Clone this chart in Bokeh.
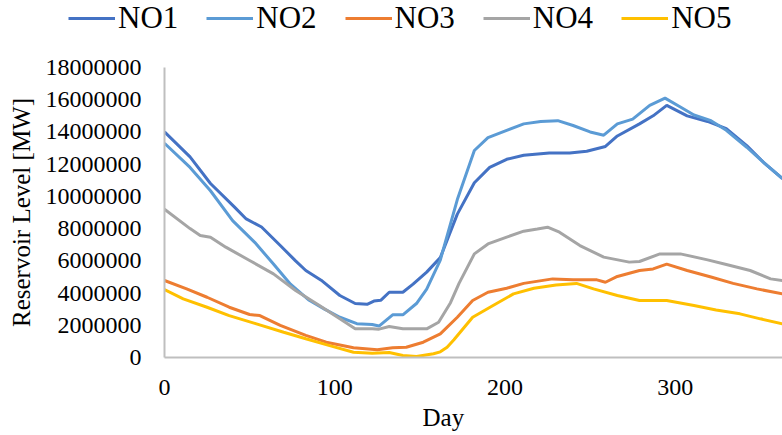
from bokeh.plotting import figure
from bokeh.layouts import column
from bokeh.models import Legend, LegendItem, FixedTicker, BasicTickFormatter, Range1d, Title
from bokeh.embed import file_html
from bokeh.resources import INLINE

series_names = ["NO1", "NO2", "NO3", "NO4", "NO5"]
colors = ["#4472C4", "#5B9BD5", "#ED7D31", "#A5A5A5", "#FFC000"]

no1_days = [0, 15, 27, 41, 48, 57, 68, 77, 83, 92, 103, 112, 119, 123, 127, 132, 140, 146, 154, 162, 172,
            182, 191, 201, 211, 226, 238, 248, 259, 266, 279, 287, 295, 307, 319, 330, 342, 352, 363]
no1 = [14.0, 12.45, 10.8, 9.35, 8.6, 8.1, 6.95, 6.0, 5.4, 4.8, 3.85, 3.35, 3.3, 3.5, 3.55, 4.05, 4.05, 4.55,
       5.3, 6.2, 8.9, 10.85, 11.8, 12.3, 12.55, 12.7, 12.7, 12.8, 13.1, 13.75, 14.5, 15.0, 15.65, 15.0,
       14.65, 14.2, 13.15, 12.1, 11.1]

no2_days = [0, 15, 27, 40, 53, 64, 74, 85, 94, 103, 113, 122, 126, 134, 140, 148, 154, 162, 172, 182, 190,
            201, 211, 221, 231, 240, 250, 258, 266, 275, 285, 294, 303, 311, 321, 330, 342, 352, 363]
no2 = [13.3, 11.8, 10.35, 8.5, 7.15, 5.8, 4.55, 3.55, 3.0, 2.5, 2.1, 2.05, 1.95, 2.65, 2.65, 3.35, 4.25,
       6.05, 9.8, 12.85, 13.65, 14.1, 14.5, 14.65, 14.7, 14.4, 14.0, 13.8, 14.5, 14.8, 15.65, 16.1, 15.55,
       15.05, 14.7, 14.1, 13.05, 12.1, 11.1]

no3_days = [0, 13, 25, 38, 50, 56, 68, 83, 95, 111, 125, 134, 142, 152, 162, 172, 181, 190, 201, 211, 228,
            240, 254, 259, 266, 279, 287, 295, 307, 321, 334, 348, 363]
no3 = [4.78, 4.26, 3.74, 3.12, 2.67, 2.6, 2.0, 1.37, 0.95, 0.6, 0.48, 0.6, 0.64, 0.95, 1.47, 2.5, 3.54,
       4.05, 4.3, 4.6, 4.88, 4.82, 4.82, 4.67, 5.03, 5.4, 5.5, 5.8, 5.4, 5.0, 4.6, 4.26, 3.95]

no4_days = [0, 15, 21, 27, 36, 50, 64, 77, 91, 103, 112, 122, 126, 132, 140, 154, 161, 168, 173, 182, 190,
            201, 211, 219, 225, 232, 244, 258, 273, 279, 291, 303, 319, 330, 344, 356, 363]
no4 = [9.2, 8.0, 7.57, 7.47, 6.85, 6.02, 5.19, 4.16, 3.23, 2.4, 1.78, 1.78, 1.76, 1.92, 1.78, 1.78, 2.19,
       3.4, 4.6, 6.43, 7.05, 7.47, 7.84, 7.98, 8.09, 7.78, 6.95, 6.23, 5.92, 5.96, 6.43, 6.43, 6.06, 5.77,
       5.4, 4.88, 4.78]

no5_days = [0, 11, 25, 38, 54, 70, 83, 97, 111, 122, 132, 140, 148, 158, 162, 166, 170, 181, 193, 205, 217,
            230, 242, 252, 266, 279, 295, 311, 324, 338, 350, 363]
no5 = [4.22, 3.64, 3.12, 2.6, 2.09, 1.57, 1.16, 0.74, 0.33, 0.27, 0.31, 0.12, 0.06, 0.23, 0.35, 0.64, 1.1,
       2.5, 3.23, 3.95, 4.3, 4.5, 4.6, 4.26, 3.85, 3.54, 3.54, 3.23, 2.95, 2.71, 2.4, 2.09]

y_ticks = [0, 2000000, 4000000, 6000000, 8000000, 10000000, 12000000, 14000000, 16000000, 18000000]
x_ticks = [0, 100, 200, 300]

all_days = [no1_days, no2_days, no3_days, no4_days, no5_days]
all_vals = [no1, no2, no3, no4, no5]

FONT = "Liberation Serif"
LEG_H = 40

p = figure(width=782, height=435 - LEG_H, output_backend="svg", toolbar_location=None,
           x_range=Range1d(0, 363), y_range=Range1d(0, 18000000),
           min_border_left=164, min_border_right=0, min_border_top=67 - LEG_H, min_border_bottom=78)
p.outline_line_color = None
p.xgrid.visible = False
p.ygrid.visible = False

for days, vals, c in zip(all_days, all_vals, colors):
    p.line(days, [v * 1e6 for v in vals], line_color=c, line_width=3)

for ax in (p.xaxis[0], p.yaxis[0]):
    ax.axis_line_color = "#BFBFBF"
    ax.axis_line_width = 2
    ax.major_tick_line_color = None
    ax.minor_tick_line_color = None
    ax.major_tick_out = 0
    ax.major_tick_in = 0
    ax.minor_tick_out = 0
    ax.major_label_text_font = FONT
    ax.major_label_text_font_size = "24px"
    ax.major_label_text_color = "black"
    ax.axis_label_text_font = FONT
    ax.axis_label_text_font_size = "25px"
    ax.axis_label_text_font_style = "normal"
    ax.axis_label_text_color = "black"

p.yaxis[0].ticker = FixedTicker(ticks=y_ticks)
p.yaxis[0].formatter = BasicTickFormatter(use_scientific=False)
p.yaxis[0].major_label_standoff = 23
p.yaxis[0].axis_label = "Reservoir Level [MW]"
p.yaxis[0].axis_label_standoff = 8

p.xaxis[0].ticker = FixedTicker(ticks=x_ticks)
p.xaxis[0].major_label_standoff = 22

day_title = Title(text="Day", align="left", offset=258, text_font=FONT, text_font_size="25px",
                  text_font_style="normal", text_color="black", standoff=8)
p.add_layout(day_title, "below")

# legend strip: same series, drawn outside its visible range so only the legend shows
lg = figure(width=782, height=LEG_H, output_backend="svg", toolbar_location=None,
            x_range=Range1d(1000, 1001), y_range=Range1d(1000, 1001),
            x_axis_location=None, y_axis_location=None,
            min_border_left=0, min_border_right=0, min_border_top=0, min_border_bottom=0)
lg.outline_line_color = None
lg.xgrid.visible = False
lg.ygrid.visible = False
leg_x = 68
if hasattr(lg, "frame_align"):
    lg.frame_align = False
    p.frame_align = False
else:
    leg_x = 68 - 164
leg_renderers = []
for days, vals, c in zip(all_days, all_vals, colors):
    leg_renderers.append(lg.line(days, [v * 1e6 for v in vals], line_color=c, line_width=3))

legend = Legend(items=[LegendItem(label=n, renderers=[r]) for n, r in zip(series_names, leg_renderers)],
                orientation="horizontal", location=(leg_x, 4),
                glyph_width=47, glyph_height=30, label_standoff=3, spacing=28,
                padding=0, margin=0, border_line_color=None, background_fill_alpha=0,
                label_text_font=FONT, label_text_font_size="31px", label_text_color="black")
lg.add_layout(legend, "center")

open("out.html", "w").write(file_html(column(lg, p, spacing=0), INLINE))
